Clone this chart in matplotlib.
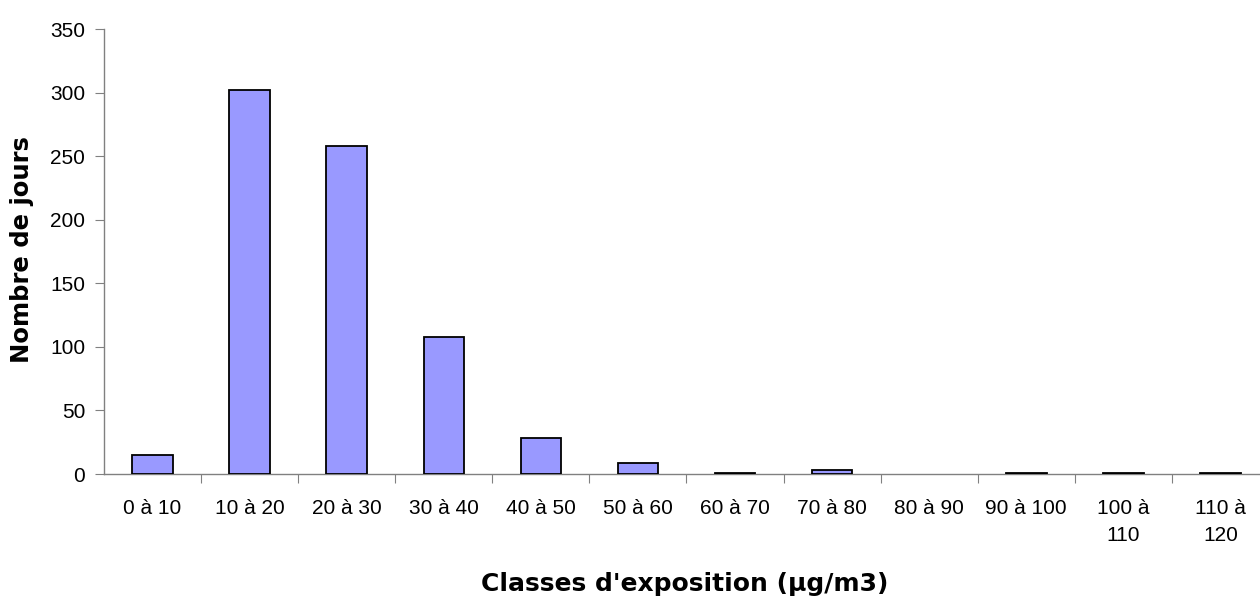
import matplotlib
matplotlib.use("Agg")
import matplotlib.pyplot as plt
import numpy as np
from matplotlib.ticker import FixedLocator

plt.rcParams['font.family'] = ['Liberation Sans', 'DejaVu Sans']

# Exposure classes (µg/m3) and number of days in each class
classes = ["0 à 10", "10 à 20", "20 à 30", "30 à 40", "40 à 50", "50 à 60",
           "60 à 70", "70 à 80", "80 à 90", "90 à 100", "100 à\n110", "110 à\n120"]
days = [15, 302, 258, 108, 28, 9, 1, 3, 0, 1, 1, 1]

y_ticks = [0, 50, 100, 150, 200, 250, 300, 350]

W, H = 1260, 597
AX_L, AX_R, AX_T, AX_B = 104, 1269, 29.3, 474
fig = plt.figure(figsize=(W / 100, H / 100), dpi=100)
ax = fig.add_axes([AX_L / W, 1 - AX_B / H, (AX_R - AX_L) / W, (AX_B - AX_T) / H])

x = np.arange(len(classes))
# empty classes get no outline
edge_widths = [1.3 if d > 0 else 0 for d in days]
ax.bar(x, days, width=0.417, color="#9999FF", edgecolor="black",
       linewidth=edge_widths, zorder=3)

ax.set_xlim(-0.5, len(classes) - 0.5)
ax.set_ylim(0, 350)

ax.set_yticks(y_ticks)
ax.tick_params(axis="y", direction="out", length=6.5, width=0.8, color="#808080",
               labelsize=15, pad=7)

# category labels at centres, tick marks between categories
ax.set_xticks(x)
ax.set_xticklabels(classes, fontsize=15, linespacing=1.55)
ax.tick_params(axis="x", which="major", length=0, pad=18)
ax.xaxis.set_minor_locator(FixedLocator(np.arange(0.5, len(classes) - 1, 1.0)))
ax.tick_params(axis="x", which="minor", direction="out", length=6.5, width=0.8,
               color="#808080")

for side in ("top", "right"):
    ax.spines[side].set_visible(False)
for side in ("left", "bottom"):
    ax.spines[side].set_color("#808080")
    ax.spines[side].set_linewidth(1.0)

label_font = dict(family="DejaVu Sans", fontweight="bold")
ax.set_ylabel("Nombre de jours", fontsize=17.5, **label_font)
ax.yaxis.set_label_coords((34 - AX_L) / (AX_R - AX_L),
                          (AX_B - 250) / (AX_B - AX_T))

ax.set_xlabel("Classes d'exposition (µg/m3)", fontsize=18, **label_font)
ax.xaxis.set_label_coords((685 - AX_L) / (AX_R - AX_L),
                          -(590.5 - AX_B) / (AX_B - AX_T))
ax.xaxis.label.set_va("baseline")

fig.savefig("out.png", dpi=100, facecolor="white")
